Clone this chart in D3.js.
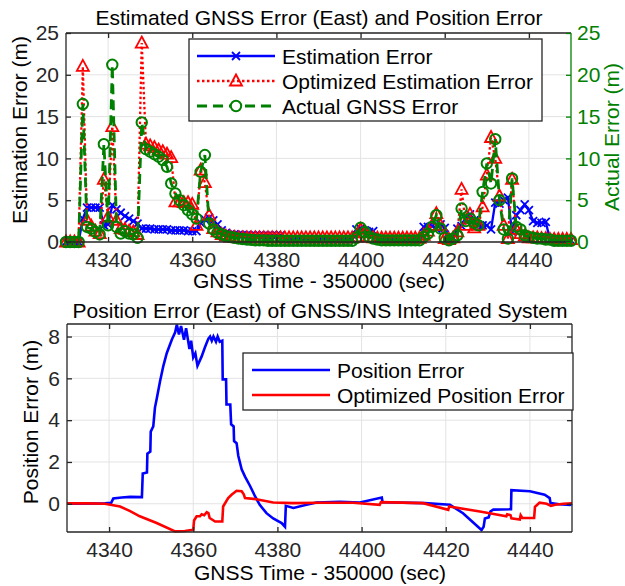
<!DOCTYPE html>
<html><head><meta charset="utf-8">
<script src="https://cdn.jsdelivr.net/npm/d3@7/dist/d3.min.js"></script>
<style>body{margin:0;background:#fff}text{font-family:"Liberation Sans",Arial,sans-serif;}</style>
</head><body>
<svg id="c" width="625" height="586"></svg>
<script>
// ---------- DATA ----------
const times = [4330,4331,4332,4333,4334,4335,4336,4337,4338,4339,4340,4341,4342,4343,4344,4345,4346,4347,4348,4349,
4350,4351,4352,4353,4354,4355,4356,4357,4358,4359,4360,4361,4362,4363,4364,4365,4366,4367,4368,4369,
4370,4371,4372,4373,4374,4375,4376,4377,4378,4379,4380,4381,4382,4383,4384,4385,4386,4387,4388,4389,
4390,4391,4392,4393,4394,4395,4396,4397,4398,4399,4400,4401,4402,4403,4404,4405,4406,4407,4408,4409,
4410,4411,4412,4413,4414,4415,4416,4417,4418,4419,4420,4421,4422,4423,4424,4425,4426,4427,4428,4429,
4430,4431,4432,4433,4434,4435,4436,4437,4438,4439,4440,4441,4442,4443,4444,4445,4446,4447,4448,4449,4450];
const estimationError = [0,0,0,0,2.8,4.1,4.1,4.1,4.1,2.0,2.1,4.4,3.9,3.5,3.1,2.8,2.5,2.2,1.6,1.6,
1.6,1.5,1.5,1.5,1.5,1.4,1.4,1.4,1.4,1.3,1.3,1.3,2.3,2.7,2.9,2.6,2.1,1.4,1.1,0.9,
0.9,0.85,0.85,0.85,0.8,0.8,0.8,0.8,0.8,0.8,0.8,0.8,0.3,0.3,0.3,0.3,0.3,0.3,0.3,0.3,
0.3,0.3,0.3,0.3,0.3,0.3,0.3,0.3,0.3,1.5,1.6,1.4,1.2,1.3,0.4,0.3,0.3,0.3,0.3,0.3,
0.3,0.3,0.3,0.3,0.3,1.8,1.8,1.9,1.6,2.1,1.7,0.4,0.5,1.6,1.9,2.8,3.3,2.6,2.0,2.0,
2.0,1.5,4.7,4.6,5.0,5.3,1.2,3.2,3.8,4.5,3.8,2.5,2.3,2.3,2.4,0.3,0.2,0.2,0.2,0.2,0.2];
const optimizedError = [0,0,0,0,21.0,2.6,1.9,1.3,1.0,7.5,3.0,13.8,2.6,1.6,1.5,1.3,1.2,0.9,23.8,11.7,
11.5,11.3,11.0,10.8,10.5,10.1,4.8,4.8,4.7,4.7,4.5,2.0,8.6,7.1,3.2,1.6,1.2,0.9,0.7,0.6,
0.55,0.5,0.5,0.5,0.5,0.5,0.5,0.5,0.5,0.5,0.5,0.5,0.5,0.5,0.5,0.5,0.5,0.5,0.5,0.5,
0.5,0.5,0.5,0.5,0.5,0.5,0.5,0.5,0.5,0.6,1.5,1.1,0.6,0.5,0.45,0.45,0.45,0.45,0.45,0.45,
0.45,0.45,0.45,0.45,0.45,0.8,1.3,2.0,3.4,2.0,0.4,0.3,0.5,1.2,6.3,2.0,3.3,1.7,2.0,4.2,
8.0,12.5,10.0,5.5,2.0,0.4,7.5,1.5,1.0,0.7,0.5,0.5,0.5,0.4,0.4,0.3,0.3,0.3,0.3,0.3,0.3];
const actualGnssError = [0,0,0,0,16.5,1.8,1.6,1.2,0.9,11.7,2.0,21.2,1.8,1.0,1.3,1.0,0.9,0.5,14.3,11.1,
10.8,10.5,10.2,9.8,9.0,7.0,5.8,5.0,4.4,3.8,3.3,2.8,8.4,10.4,2.2,1.5,1.1,0.9,0.7,0.6,
0.5,0.4,0.35,0.3,0.25,0.2,0.2,0.2,0.15,0.15,0.15,0.15,0.15,0.15,0.15,0.15,0.15,0.15,0.15,0.15,
0.15,0.15,0.15,0.15,0.15,0.15,0.15,0.15,0.15,0.5,1.7,1.2,0.6,0.4,0.3,0.2,0.2,0.2,0.2,0.2,
0.2,0.2,0.2,0.2,0.2,0.6,1.0,1.8,3.2,1.6,0.5,0.2,0.4,0.8,4.0,2.5,2.8,2.3,2.0,6.0,
9.4,7.0,12.3,5.0,1.5,0.4,7.6,1.8,1.5,0.8,0.6,0.5,0.4,0.4,0.3,0.3,0.15,0.15,0.15,0.15,0.15];

// bottom chart: [time, value] breakpoints
const positionError = [[4330,0],[4339,0.02],[4340.5,0.05],[4341,0.25],[4343,0.3],[4345,0.33],[4347.8,0.32],[4348,1.45],[4349,1.5],
[4349.1,2.4],[4349.8,2.5],[4349.9,3.45],[4350.5,3.7],[4350.9,4.6],[4351.3,5.0],[4352.1,5.85],[4352.9,6.6],[4353.7,7.2],[4354.9,7.85],
[4355.7,8.2],[4356.1,8.58],[4356.6,8.1],[4357.1,8.5],[4357.8,7.85],[4358.3,8.4],[4359.1,7.4],[4359.5,7.8],[4360.0,7.0],[4360.5,7.2],
[4361.0,6.6],[4362.0,7.05],[4362.8,7.5],[4363.6,7.9],[4364,8.0],[4364.4,7.8],[4364.8,8.0],[4365.4,7.75],[4365.8,8.0],[4366.3,7.75],
[4366.9,7.8],[4367.0,5.95],[4367.8,5.95],[4367.9,4.75],[4368.8,4.75],[4369.0,3.8],[4369.6,3.7],[4369.7,3.0],[4370.3,2.9],[4370.7,2.3],
[4371.5,1.65],[4372.3,1.3],[4373.5,0.85],[4374.7,0.35],[4375.8,-0.05],[4377.4,-0.45],[4379,-0.7],[4381,-0.92],[4381.8,-1.1],[4382,-0.1],
[4383.8,-0.2],[4386.9,-0.05],[4389.3,0.06],[4394.8,0.1],[4399.6,0.06],[4404.8,0.3],[4405,0.07],[4415,0.03],[4421,-0.05],[4424.1,-0.45],
[4428.5,-1.25],[4429,-1.1],[4429.3,-0.7],[4430.2,-0.65],[4430.6,-0.37],[4431.3,-0.28],[4435.5,-0.26],[4435.6,0.65],[4440,0.6],
[4443.5,0.43],[4444.7,0.27],[4444.9,0.03],[4447,-0.02],[4449.5,-0.05],[4450,0]];
const optimizedPositionError = [[4330,0.02],[4335,0.02],[4339,0.0],[4342.6,-0.13],[4345,-0.35],[4347.3,-0.6],[4351.3,-0.92],[4355.7,-1.32],
[4358,-1.3],[4360,-1.24],[4360.2,-0.8],[4360.8,-0.6],[4361.6,-0.6],[4362,-0.5],[4362.6,-0.55],[4363.2,-0.4],[4363.6,-0.45],[4363.9,-0.68],
[4365.2,-0.85],[4366.9,-0.85],[4367.1,-0.13],[4368.3,0.27],[4369.1,0.43],[4370.3,0.62],[4371.5,0.6],[4372.0,0.45],[4372.3,0.27],[4375,0.22],
[4379,0.06],[4383.7,0.03],[4390,0.05],[4398,0.05],[4404.3,-0.05],[4404.6,0.08],[4414.6,0.03],[4420.6,-0.29],[4420.8,-0.13],[4428.1,-0.37],
[4434.4,-0.6],[4434.6,-0.5],[4435.4,-0.55],[4435.6,-0.7],[4437.6,-0.75],[4437.8,-0.55],[4438.2,-0.68],[4441,-0.68],[4441.2,-0.15],
[4442,0.0],[4442.3,0.05],[4444,0.0],[4445,-0.1],[4446,-0.05],[4448,0],[4450,0.02]];

const xTicks = [4340,4360,4380,4400,4420,4440];
const yTicksTop = [0,5,10,15,20,25];
const yTicksBottom = [0,2,4,6,8];

// ---------- DRAW ----------
const svg = d3.select("#c");
const FS = 21, AX = "#262626", GRID = "#e3e3e3";
const BLUE="#0000ff", RED="#ff0000", GREEN="#008000";

function frame(x, y, ticksY){
  const [x0,x1] = x.range(), [y0,y1] = y.range();
  const g = svg.append("g");
  xTicks.forEach(t=>g.append("line").attr("x1",x(t)).attr("x2",x(t)).attr("y1",y0).attr("y2",y1).attr("stroke",GRID).attr("stroke-width",1));
  ticksY.forEach(t=>g.append("line").attr("x1",x0).attr("x2",x1).attr("y1",y(t)).attr("y2",y(t)).attr("stroke",GRID).attr("stroke-width",1));
}
function axes(x, y, ticksY, rightColor){
  const [x0,x1] = x.range(), [y0,y1] = y.range();
  const g = svg.append("g");
  const ax = g.append("g").attr("transform",`translate(0,${y0})`).call(d3.axisBottom(x).tickValues(xTicks).tickSize(-5).tickPadding(10).tickFormat(d3.format("d")));
  const axT = g.append("g").attr("transform",`translate(0,${y1})`).call(d3.axisTop(x).tickValues(xTicks).tickSize(-5).tickFormat(""));
  const ay = g.append("g").attr("transform",`translate(${x0},0)`).call(d3.axisLeft(y).tickValues(ticksY).tickSize(-5).tickPadding(7).tickFormat(d3.format("d")));
  const ayR = g.append("g").attr("transform",`translate(${x1},0)`).call(d3.axisRight(y).tickValues(ticksY).tickSize(-5).tickPadding(6).tickFormat(rightColor?d3.format("d"):""));
  [ax,axT,ay].forEach(a=>{a.selectAll("path,line").attr("stroke",AX).attr("stroke-width",1.3); a.selectAll("text").attr("fill",AX).style("font-size",FS+"px");});
  const rc = rightColor||AX;
  ayR.selectAll("path,line").attr("stroke",rc).attr("stroke-width",1.3);
  ayR.selectAll("text").attr("fill",rc).style("font-size",FS+"px");
  [ax,axT,ay,ayR].forEach(a=>a.select(".domain").attr("d", a===ax||a===axT? `M${x0},0H${x1}` : `M0,${y1}V${y0}`));
}

// ----- TOP -----
const xT = d3.scaleLinear([4330,4450],[66,571]);
const yL = d3.scaleLinear([0,25],[242,33]);
const yR = d3.scaleLinear([0,25],[242,33]);
frame(xT,yL,yTicksTop);

const lineT = (arr, ys)=>d3.line().x((d,i)=>xT(times[i])).y(d=>ys(d))(arr);
const gT = svg.append("g");
const xMark = "M-4,-4L4,4M-4,4L4,-4";
const triMark = "M0,-6.5L6,4.5L-6,4.5Z";
gT.append("path").attr("d",lineT(estimationError,yL)).attr("fill","none").attr("stroke",BLUE).attr("stroke-width",2.3);
gT.selectAll(".bx").data(estimationError).join("path").attr("d",xMark).attr("transform",(d,i)=>`translate(${xT(times[i])},${yL(d)})`).attr("stroke",BLUE).attr("stroke-width",1.8).attr("fill","none");
gT.append("path").attr("d",lineT(optimizedError,yL)).attr("fill","none").attr("stroke",RED).attr("stroke-width",2.3).attr("stroke-dasharray","2.5,2.5");
gT.selectAll(".rt").data(optimizedError).join("path").attr("d",triMark).attr("transform",(d,i)=>`translate(${xT(times[i])},${yL(d)})`).attr("stroke",RED).attr("stroke-width",1.8).attr("fill","none");
gT.append("path").attr("d",lineT(actualGnssError,yR)).attr("fill","none").attr("stroke",GREEN).attr("stroke-width",2.8).attr("stroke-dasharray","10,6");
gT.selectAll(".gc").data(actualGnssError).join("circle").attr("cx",(d,i)=>xT(times[i])).attr("cy",d=>yR(d)).attr("r",5.2).attr("stroke",GREEN).attr("stroke-width",2).attr("fill","none");
axes(xT,yL,yTicksTop,GREEN);

svg.append("text").attr("x",319).attr("y",25).attr("text-anchor","middle").style("font-size",FS+"px").attr("fill","#000").text("Estimated GNSS Error (East) and Position Error");
svg.append("text").attr("x",319).attr("y",288).attr("text-anchor","middle").style("font-size",FS+"px").attr("fill","#000").text("GNSS Time - 350000 (sec)");
svg.append("text").attr("transform","translate(27,130) rotate(-90)").attr("text-anchor","middle").style("font-size",FS+"px").attr("fill","#000").text("Estimation Error (m)");
svg.append("text").attr("transform","translate(619,137) rotate(-90)").attr("text-anchor","middle").style("font-size",FS+"px").attr("fill",GREEN).text("Actual Error (m)");

// legend top
const lg = svg.append("g");
lg.append("rect").attr("x",189).attr("y",39).attr("width",353).attr("height",82).attr("fill","#fff").attr("stroke",AX).attr("stroke-width",1.3);
const legT = [
  {name:"Estimation Error", c:BLUE, dash:null, w:2.3, m:"x", y:56},
  {name:"Optimized Estimation Error", c:RED, dash:"2.5,2.5", w:2.3, m:"t", y:81},
  {name:"Actual GNSS Error", c:GREEN, dash:"10,6", w:2.8, m:"o", y:106}];
legT.forEach(e=>{
  lg.append("line").attr("x1",197).attr("x2",275).attr("y1",e.y).attr("y2",e.y).attr("stroke",e.c).attr("stroke-width",e.w).attr("stroke-dasharray",e.dash);
  if(e.m==="x") lg.append("path").attr("d",xMark).attr("transform",`translate(236,${e.y})`).attr("stroke",e.c).attr("stroke-width",1.8);
  if(e.m==="t") lg.append("path").attr("d",triMark).attr("transform",`translate(236,${e.y})`).attr("stroke",e.c).attr("stroke-width",1.8).attr("fill","none");
  if(e.m==="o") lg.append("circle").attr("cx",236).attr("cy",e.y).attr("r",5.2).attr("stroke",e.c).attr("stroke-width",2).attr("fill","#fff");
  lg.append("text").attr("x",282).attr("y",e.y+7.5).style("font-size",FS+"px").attr("fill","#000").text(e.name);
});

// ----- BOTTOM -----
const xB = d3.scaleLinear([4330,4450],[67,572]);
const yB = d3.scaleLinear([-1.35,8.6],[532,324]);
frame(xB,yB,yTicksBottom);
const lineB = d3.line().x(d=>xB(d[0])).y(d=>yB(d[1]));
svg.append("path").attr("d",lineB(positionError)).attr("fill","none").attr("stroke",BLUE).attr("stroke-width",2.6);
svg.append("path").attr("d",lineB(optimizedPositionError)).attr("fill","none").attr("stroke",RED).attr("stroke-width",2.6);
axes(xB,yB,yTicksBottom,null);

svg.append("text").attr("x",320).attr("y",318).attr("text-anchor","middle").style("font-size",FS+"px").attr("fill","#000").text("Position Error (East) of GNSS/INS Integrated System");
svg.append("text").attr("x",320).attr("y",580).attr("text-anchor","middle").style("font-size",FS+"px").attr("fill","#000").text("GNSS Time - 350000 (sec)");
svg.append("text").attr("transform","translate(38,422) rotate(-90)").attr("text-anchor","middle").style("font-size",FS+"px").attr("fill","#000").text("Position Error (m)");

const lb = svg.append("g");
lb.append("rect").attr("x",243).attr("y",353).attr("width",330).attr("height",57).attr("fill","#fff").attr("stroke",AX).attr("stroke-width",1.3);
[{name:"Position Error",c:BLUE,y:370},{name:"Optimized Position Error",c:RED,y:395}].forEach(e=>{
  lb.append("line").attr("x1",252).attr("x2",330).attr("y1",e.y).attr("y2",e.y).attr("stroke",e.c).attr("stroke-width",2.6);
  lb.append("text").attr("x",337).attr("y",e.y+7.5).style("font-size",FS+"px").attr("fill","#000").text(e.name);
});
</script>
</body></html>
